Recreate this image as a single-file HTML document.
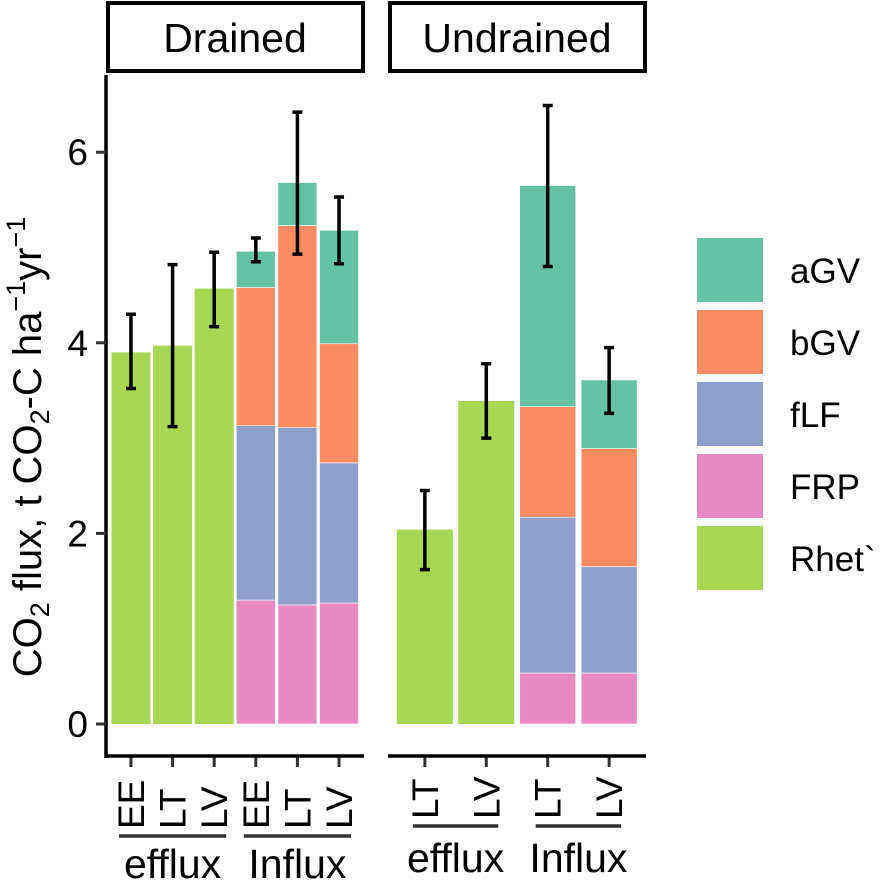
<!DOCTYPE html>
<html><head><meta charset="utf-8"><style>
html,body{margin:0;padding:0;background:#fff;}
svg{display:block;font-family:"Liberation Sans",Arial,sans-serif;}
</style></head><body>
<svg id="chart" width="886" height="881" viewBox="0 0 886 881"></svg>
<script>
const series = ["FRP","fLF","bGV","aGV"];
const colors = {aGV:"#66c2a5",bGV:"#fc8d62",fLF:"#8da0cb",FRP:"#e78ac3",Rhet:"#a6d854"};
// Drained panel
const drainedCats = ["EE","LT","LV","EE","LT","LV"];
const drainedGroups = ["efflux","efflux","efflux","Influx","Influx","Influx"];
const drainedRhet = [3.90,3.97,4.57,0,0,0];
const drainedFRP = [0,0,0,1.30,1.25,1.27];
const drainedFLF = [0,0,0,1.83,1.86,1.47];
const drainedBGV = [0,0,0,1.45,2.12,1.25];
const drainedAGV = [0,0,0,0.38,0.45,1.19];
const drainedErrLo = [3.52,3.12,4.17,4.85,4.93,4.83];
const drainedErrHi = [4.30,4.82,4.95,5.10,6.42,5.53];
// Undrained panel
const undrainedCats = ["LT","LV","LT","LV"];
const undrainedGroups = ["efflux","efflux","Influx","Influx"];
const undrainedRhet = [2.04,3.39,0,0];
const undrainedFRP = [0,0,0.535,0.535];
const undrainedFLF = [0,0,1.635,1.115];
const undrainedBGV = [0,0,1.16,1.24];
const undrainedAGV = [0,0,2.32,0.72];
const undrainedErrLo = [1.62,3.00,4.80,3.26];
const undrainedErrHi = [2.45,3.78,6.49,3.95];
const yTicks = [0,2,4,6];
const legendKeys = ["aGV","bGV","fLF","FRP","Rhet`"];

const svg = document.getElementById('chart');
const NS = "http://www.w3.org/2000/svg";
function el(tag, attrs, parent){const e=document.createElementNS(NS,tag);for(const k in attrs)e.setAttribute(k,attrs[k]);(parent||svg).appendChild(e);return e;}
const y0=724, ppu=95.3;
function y(v){return y0 - v*ppu;}

const panels = [
 {name:"Drained", x0:106, x1:364, cats:drainedCats, groups:drainedGroups, rhet:drainedRhet, stacks:[drainedFRP,drainedFLF,drainedBGV,drainedAGV], lo:drainedErrLo, hi:drainedErrHi, bw:39, groupY:836, labY:878},
 {name:"Undrained", x0:388, x1:646, cats:undrainedCats, groups:undrainedGroups, rhet:undrainedRhet, stacks:[undrainedFRP,undrainedFLF,undrainedBGV,undrainedAGV], lo:undrainedErrLo, hi:undrainedErrHi, bw:56, groupY:826, labY:872}
];
function xc(p,i){const n=p.cats.length;const pad=(p.x1-p.x0)/(n+0.2)*0.6;const step=(p.x1-p.x0-2*pad)/(n-1);return p.x0+pad+i*step;}

panels.forEach((p,pi)=>{
  const g=el('g',{});
  
  
  const s=el('rect',{x:p.x0+2,y:3,width:p.x1-p.x0-3,height:68,fill:'#fff',stroke:'#000','stroke-width':4},g);
  
  
  const st=el('text',{x:(p.x0+p.x1)/2,y:52,'text-anchor':'middle','font-size':41,fill:'#000'},g);st.textContent=p.name;
  
  
  p.cats.forEach((c,i)=>{
    const cx=xc(p,i);
    if(p.rhet[i]>0){
      const r=el('rect',{x:cx-p.bw/2,y:y(p.rhet[i]),width:p.bw,height:p.rhet[i]*ppu,fill:colors.Rhet},g);
      
      
    }
    let acc=0;
    p.stacks.forEach((arr,si)=>{
      const v=arr[i]; if(v<=0) return;
      const r=el('rect',{x:cx-p.bw/2,y:y(acc+v),width:p.bw,height:v*ppu,fill:colors[series[si]],stroke:'#fff','stroke-width':0.6},g);
      
      
      acc+=v;
    });
    const e=el('path',{d:`M${cx-5},${y(p.hi[i])}H${cx+5}M${cx},${y(p.hi[i])}V${y(p.lo[i])}M${cx-5},${y(p.lo[i])}H${cx+5}`,stroke:'#000','stroke-width':3.5,fill:'none'},g);
    
    
    el('line',{x1:cx,x2:cx,y1:757,y2:767,stroke:'#333','stroke-width':3},g);
    const t=el('text',{x:0,y:0,transform:`translate(${cx+13},${829-(pi?10:0)}) rotate(-90)`,'font-size':37,fill:'#000'},g);
    t.textContent=c;
    
    
  });
  el('line',{x1:p.x0,x2:p.x1,y1:756,y2:756,stroke:'#000','stroke-width':3.5},g);
  ["efflux","Influx"].forEach(gn=>{
    const idx=p.groups.map((v,i)=>v===gn?i:-1).filter(i=>i>=0);
    const a=xc(p,idx[0])-12, b=xc(p,idx[idx.length-1])+12;
    el('line',{x1:a,x2:b,y1:p.groupY,y2:p.groupY,stroke:'#333','stroke-width':3.5},g);
    const t=el('text',{x:(a+b)/2,y:p.labY,'text-anchor':'middle','font-size':41,fill:'#000'},g);
    t.textContent=gn;
    
    
  });
});
const ya=el('line',{x1:106,x2:106,y1:75,y2:758,stroke:'#000','stroke-width':3.5});


yTicks.forEach(v=>{
  el('line',{x1:96,x2:106,y1:y(v),y2:y(v),stroke:'#333','stroke-width':3});
  const t=el('text',{x:88,y:y(v)+13,'text-anchor':'end','font-size':37,fill:'#000'});
  t.textContent=v;
  
  
});
const yt=el('text',{transform:'translate(41,447) rotate(-90)','text-anchor':'middle','font-size':40,fill:'#000'});
yt.innerHTML='CO<tspan font-size="27" dy="8">2</tspan><tspan dy="-8"> flux, t CO</tspan><tspan font-size="27" dy="8">2</tspan><tspan dy="-8">-C ha</tspan><tspan font-size="27" dy="-16">\u22121</tspan><tspan dy="16">yr</tspan><tspan font-size="27" dy="-16">\u22121</tspan>';


legendKeys.forEach((k,i)=>{
  const top=238+i*72;
  const r=el('rect',{x:697,y:top,width:66,height:64,fill:colors[k.replace('`','')]});
  
  
  const t=el('text',{x:790,y:top+45,'font-size':35,fill:'#000'});
  t.textContent=k;
  
  
});
</script>
</body></html>
